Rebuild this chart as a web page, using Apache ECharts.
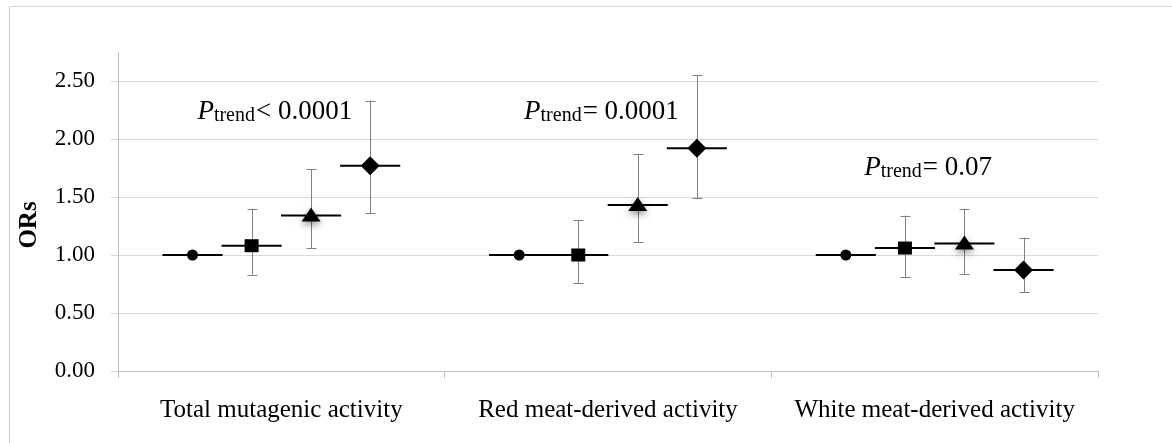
<!DOCTYPE html>
<html>
<head>
<meta charset="utf-8">
<script src="https://cdn.jsdelivr.net/npm/echarts@6/dist/echarts.min.js"></script>
<style>
html,body{margin:0;padding:0;background:#fff;}
#chart{width:1172px;height:443px;}
</style>
</head>
<body>
<div id="chart"></div>
<script>
// ---- data ----
const categories = ['Total mutagenic activity', 'Red meat-derived activity', 'White meat-derived activity'];
const quartiles = ['Q1', 'Q2', 'Q3', 'Q4'];
const orQ1 = [1.00, 1.00, 1.00];
const orQ2 = [1.08, 1.00, 1.06];
const orQ3 = [1.34, 1.43, 1.10];
const orQ4 = [1.77, 1.92, 0.87];
const loQ2 = [0.83, 0.76, 0.81];
const hiQ2 = [1.40, 1.30, 1.34];
const loQ3 = [1.06, 1.11, 0.84];
const hiQ3 = [1.74, 1.87, 1.40];
const loQ4 = [1.36, 1.49, 0.68];
const hiQ4 = [2.33, 2.55, 1.15];
const pTrendText = ['< 0.0001', '= 0.0001', '= 0.07'];
const pTrendY = [2.23, 2.23, 1.75];
const yTicks = [0, 0.5, 1.0, 1.5, 2.0, 2.5];

const orAll = [orQ1, orQ2, orQ3, orQ4];
const loAll = [[null, null, null], loQ2, loQ3, loQ4];
const hiAll = [[null, null, null], hiQ2, hiQ3, hiQ4];

const offsetFrac = [-0.272, -0.091, 0.091, 0.272];
const halfDash = 0.092;
const serif = "'Liberation Serif', 'DejaVu Serif', serif";

function markerShape(s, x, y) {
  if (s === 0) return { type: 'circle', shape: { cx: x, cy: y, r: 5.5 }, style: { fill: '#000' } };
  if (s === 1) return { type: 'rect', shape: { x: x - 7, y: y - 6.5, width: 14, height: 13 }, style: { fill: '#000' } };
  if (s === 2) return { type: 'polygon', shape: { points: [[x, y - 8], [x + 9.5, y + 6], [x - 9.5, y + 6]] },
    style: { fill: '#000', shadowBlur: 7, shadowColor: 'rgba(0,0,0,0.45)', shadowOffsetY: 3 } };
  return { type: 'polygon', shape: { points: [[x, y - 9.5], [x + 9.5, y], [x, y + 9.5], [x - 9.5, y]] }, style: { fill: '#000' } };
}

function makeSeries(s) {
  const data = categories.map((c, i) => [i, orAll[s][i],
    loAll[s][i] == null ? '-' : loAll[s][i], hiAll[s][i] == null ? '-' : hiAll[s][i]]);
  return {
    type: 'custom',
    name: quartiles[s],
    data: data,
    encode: { x: 0, y: 1 },
    renderItem: function (params, api) {
      const g = api.value(0), v = api.value(1), lo = api.value(2), hi = api.value(3);
      const c = api.coord([g, v]);
      const bw = api.size([1, 0])[0];
      const x = c[0] + offsetFrac[s] * bw;
      const y = c[1];
      const hw = halfDash * bw;
      const children = [];
      if (!isNaN(lo) && !isNaN(hi)) {
        const yl = api.coord([g, lo])[1];
        const yh = api.coord([g, hi])[1];
        const st = { stroke: '#808080', lineWidth: 1 };
        const xr = Math.round(x) + 0.5;
        children.push({ type: 'line', shape: { x1: xr, y1: yl, x2: xr, y2: yh }, style: st });
        children.push({ type: 'line', shape: { x1: xr - 5, y1: Math.round(yl) + 0.5, x2: xr + 5, y2: Math.round(yl) + 0.5 }, style: st });
        children.push({ type: 'line', shape: { x1: xr - 5, y1: Math.round(yh) + 0.5, x2: xr + 5, y2: Math.round(yh) + 0.5 }, style: st });
      }
      children.push({ type: 'line', shape: { x1: x - hw, y1: y, x2: x + hw, y2: y }, style: { stroke: '#000', lineWidth: 2 } });
      children.push(markerShape(s, x, y));
      return { type: 'group', children: children };
    },
    z: 3 + s
  };
}

const annotSeries = {
  type: 'custom',
  name: 'ptrend',
  data: categories.map((c, i) => [i, pTrendY[i]]),
  encode: { x: 0, y: 1 },
  renderItem: function (params, api) {
    const i = params.dataIndex;
    const c = api.coord([api.value(0), api.value(1)]);
    const bw = api.size([1, 0])[0];
    return {
      type: 'text',
      style: {
        x: c[0] - 0.02 * bw, y: c[1],
        text: '{p|P}{s|trend}{t|' + pTrendText[i] + '}',
        align: 'center', verticalAlign: 'middle',
        rich: {
          p: { fontFamily: serif, fontStyle: 'italic', fontSize: 27, lineHeight: 27, verticalAlign: 'bottom', fill: '#000' },
          s: { fontFamily: serif, fontSize: 20, lineHeight: 20, verticalAlign: 'bottom', fill: '#000', padding: [0, 1, 0, 0] },
          t: { fontFamily: serif, fontSize: 27, lineHeight: 27, verticalAlign: 'bottom', fill: '#000' }
        }
      }
    };
  },
  z: 10
};

const chart = echarts.init(document.getElementById('chart'), null, { renderer: 'canvas' });
chart.setOption({
  animation: false,
  backgroundColor: '#fff',
  grid: { left: 118, right: 74, top: 52, bottom: 72, containLabel: false },
  xAxis: {
    type: 'category',
    data: categories,
    boundaryGap: true,
    axisLine: { show: true, lineStyle: { color: '#bfbfbf', width: 1 } },
    axisTick: { show: true, interval: 0, length: 7, lineStyle: { color: '#bfbfbf' } },
    axisLabel: { interval: 0, hideOverlap: false, fontFamily: serif, fontSize: 25, color: '#000', margin: 27 },
    splitLine: { show: false }
  },
  yAxis: {
    type: 'value',
    min: 0, max: 2.75, interval: 0.5,
    axisLine: { show: true, lineStyle: { color: '#bfbfbf', width: 1 } },
    axisTick: { show: true, length: 7, lineStyle: { color: '#d9d9d9' } },
    axisLabel: {
      fontFamily: serif, fontSize: 23, color: '#000', margin: 23, showMaxLabel: false,
      formatter: function (v) { return yTicks.indexOf(v) >= 0 ? v.toFixed(2) : ''; }
    },
    splitLine: { show: true, showMaxLine: false, lineStyle: { color: '#d9d9d9', width: 1 } }
  },
  graphic: [
    { type: 'rect', shape: { x: 9.5, y: 6.5, width: 1400, height: 800 }, style: { fill: 'none', stroke: '#d4d4d4', lineWidth: 1 }, silent: true },
    { type: 'text', x: 30, y: 225, rotation: Math.PI / 2,
      style: { text: 'ORs', fontFamily: serif, fontWeight: 'bold', fontSize: 25, fill: '#000', align: 'center', verticalAlign: 'middle' } }
  ],
  series: [makeSeries(0), makeSeries(1), makeSeries(2), makeSeries(3), annotSeries]
});
</script>
</body>
</html>
